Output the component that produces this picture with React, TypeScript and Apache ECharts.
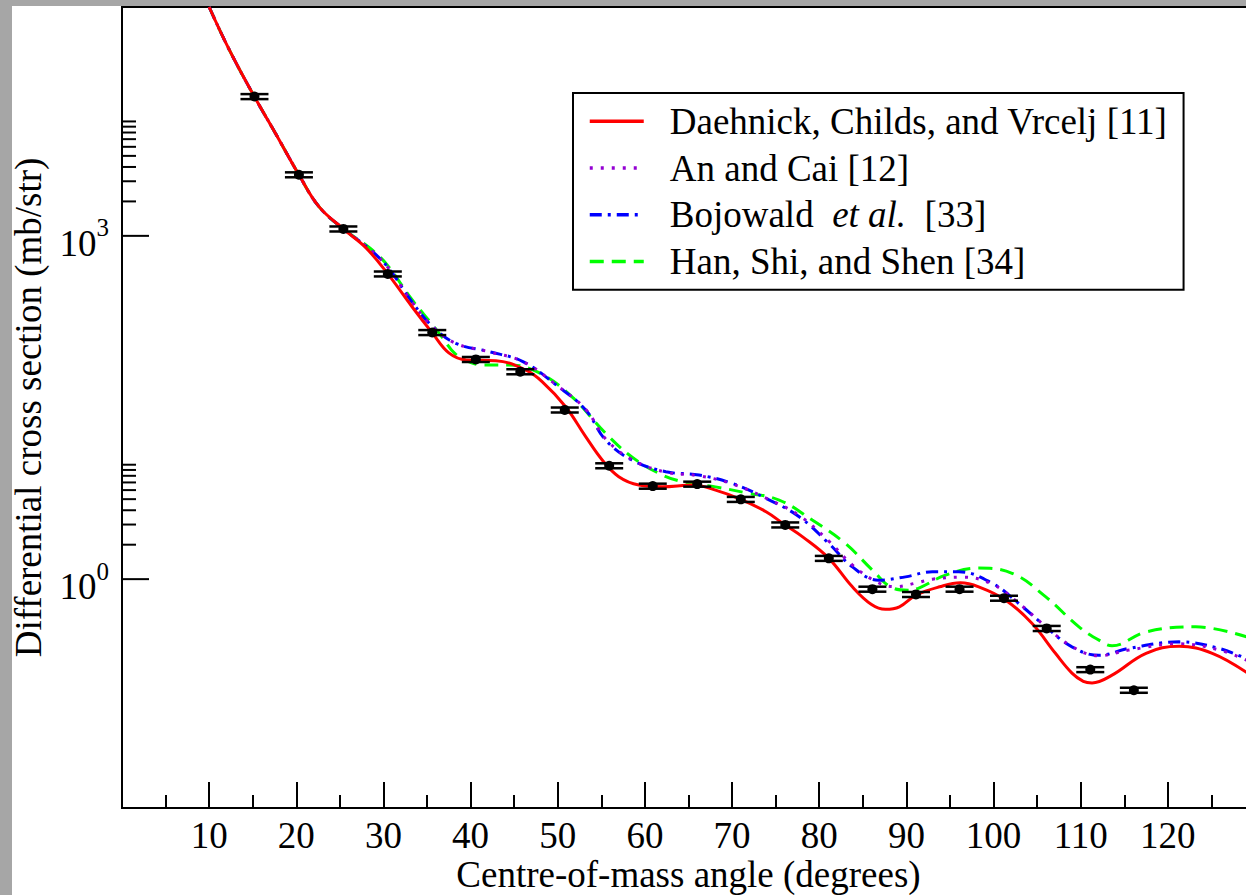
import React, { useEffect, useRef } from "react";
import * as echarts from "echarts";

const FONT = '"Liberation Serif", "Times New Roman", "DejaVu Serif", serif';

// [angle (deg), cross section (mb/str)]
const daehnick: [number, number][] = [
  [10, 100000], [12.3, 42400], [15.2, 16400], [17.6, 7900], [20.3, 3420], [22.6, 1800], [25.4, 1150],
  [28.0, 785], [30.5, 465], [33.3, 239], [35.6, 142], [37.5, 95], [39.5, 82.4], [42.9, 81.2],
  [46.3, 67.3], [48.2, 53.2], [50.9, 32.1], [53.2, 17.6], [55.1, 11.0], [57.0, 7.85], [59.3, 6.64],
  [62.0, 6.42], [65.4, 6.64], [68.1, 6.0], [71.0, 4.98], [73.9, 3.88], [76.1, 2.97], [78.1, 2.34],
  [81.1, 1.52], [83.8, 0.857], [86.0, 0.6], [87.6, 0.545], [89.2, 0.573], [91.1, 0.724], [93.8, 0.857], [96.2, 0.93],
  [98.3, 0.857], [101.4, 0.655], [104.4, 0.412], [107.1, 0.225], [109.0, 0.151], [110.3, 0.128], [111.3, 0.124],
  [113.6, 0.145], [117.5, 0.225], [121.3, 0.259], [125.1, 0.225], [129.2, 0.15],
];

const anCai: [number, number][] = [
  [10, 100000], [12.3, 42400], [15.2, 16400], [17.6, 7900], [20.3, 3420], [22.6, 1800], [25.4, 1150],
  [28.5, 755], [30.6, 520], [33.3, 263], [35.6, 162], [38.3, 115], [42.1, 97], [46.0, 79.6],
  [49.8, 50], [53.2, 30.5], [55.5, 16.8], [58.5, 11.1], [62.4, 8.6], [66.2, 8.0], [70.0, 6.8],
  [73.9, 5.1], [77.7, 3.6], [81.1, 2.15], [83.8, 1.33], [86.8, 0.93], [88.8, 0.86], [91.0, 0.92],
  [93.0, 1.0], [96.5, 1.04], [99.9, 0.9], [102.9, 0.615], [106.0, 0.385], [109.0, 0.258],
  [112.1, 0.214], [115.5, 0.24], [121.3, 0.272], [125.9, 0.24], [129.2, 0.193],
];

const bojowald: [number, number][] = [
  [10, 100000], [12.3, 42400], [15.2, 16400], [17.6, 7900], [20.3, 3420], [22.6, 1800], [25.4, 1150],
  [28.5, 755], [30.6, 520], [33.3, 263], [35.6, 162], [38.3, 115], [42.1, 97.3], [46.0, 79.6],
  [49.8, 49.8], [53.2, 30.1], [55.5, 16.4], [58.5, 11.0], [62.4, 8.69], [66.2, 8.13], [70.0, 6.87],
  [73.9, 5.08], [77.7, 3.51], [81.1, 2.05], [83.8, 1.28], [86.8, 0.98], [89.9, 1.047], [93.0, 1.159],
  [96.0, 1.159], [99.9, 0.916], [102.9, 0.612], [106.0, 0.383], [109.0, 0.256], [112.1, 0.216],
  [115.5, 0.248], [121.3, 0.283], [125.9, 0.248], [129.2, 0.198],
];

const hanShiShen: [number, number][] = [
  [10, 100000], [12.3, 42400], [15.2, 16400], [17.6, 7900], [20.3, 3420], [22.6, 1800], [25.4, 1150],
  [28.5, 775], [30.4, 560], [33.3, 275], [35.6, 168], [36.7, 131], [38.3, 92], [40.2, 77.4],
  [41.3, 74.5], [44.4, 74.5], [47.9, 63.4], [51.6, 39.4], [55.5, 18.8], [58.5, 11.7], [61.6, 8.41],
  [64.3, 7.1], [68.1, 6.4], [71.5, 5.7], [75.4, 4.91], [79.2, 3.28], [83.0, 2.05], [86.1, 1.2],
  [88.4, 0.84], [90.2, 0.8], [91.5, 0.84], [94.5, 1.084], [98.3, 1.25], [102.2, 1.12], [106.0, 0.7],
  [109.8, 0.383], [112.2, 0.29], [113.6, 0.262], [117.5, 0.346], [123.2, 0.383], [129.2, 0.31],
];

// experimental data
const expAngles = [15.2, 20.3, 25.4, 30.5, 35.6, 40.6, 45.7, 50.8, 55.9, 60.9, 66.0, 71.0, 76.1, 81.1, 86.1, 91.1, 96.1, 101.2, 106.1, 111.1, 116.1];
const expValues = [16500, 3420, 1150, 465, 143, 83.2, 65.0, 30.1, 9.8, 6.5, 6.77, 4.98, 2.98, 1.52, 0.818, 0.735, 0.818, 0.682, 0.371, 0.162, 0.107];
const expErrors = [830, 170, 58, 23, 7.2, 4.2, 3.3, 1.5, 0.49, 0.33, 0.34, 0.25, 0.15, 0.076, 0.041, 0.037, 0.041, 0.034, 0.019, 0.008, 0.0054];

const xTickLabels = [10, 20, 30, 40, 50, 60, 70, 80, 90, 100, 110, 120];
const yLabelExponents = [0, 3];
const yMajorTicks = [1, 1000];
const yMinorTicks = [2, 3, 4, 5, 6, 7, 8, 9, 10, 2000, 3000, 4000, 5000, 6000, 7000, 8000, 9000, 10000];

const seriesNames = [
  "Daehnick, Childs, and Vrcelj [11]",
  "An and Cai [12]",
  "Bojowald et al. [33]",
  "Han, Shi, and Shen [34]",
];

export default function App() {
  const ref = useRef<HTMLDivElement>(null);
  useEffect(() => {
    if (!ref.current) return;
    const chart = echarts.init(ref.current, null, { renderer: "svg" });
    const lineSeries = (name: string, data: [number, number][], color: string, type: any, z: number) => ({
      type: "line",
      name,
      data,
      smooth: 0.4,
      showSymbol: false,
      symbol: "none",
      z,
      itemStyle: { color },
      lineStyle: { color, width: 3, type },
    });
    chart.setOption({
      animation: false,
      backgroundColor: "#fff",
      grid: {
        left: 122, top: 7, right: 25, bottom: 87,
        containLabel: false, outerBoundsMode: "none",
        show: true, borderColor: "#000", borderWidth: 2,
      },
      graphic: [
        { type: "rect", shape: { x: 0, y: 0, width: 12, height: 895 }, style: { fill: "#a6a6a6" }, silent: true, z: 100 },
        { type: "rect", shape: { x: 0, y: 0, width: 1280, height: 6 }, style: { fill: "#a6a6a6" }, silent: true, z: 100 },
      ],
      legend: {
        data: seriesNames,
        orient: "vertical",
        left: 573,
        top: 93,
        padding: [5, 16, 5, 15],
        borderColor: "#000",
        borderWidth: 2,
        backgroundColor: "#fff",
        itemWidth: 54,
        itemHeight: 14,
        itemGap: 0,
        selectedMode: false,
        itemStyle: { opacity: 0, borderWidth: 0 },
        lineStyle: { width: 3.5 },
        formatter: (name: string) => (name === seriesNames[2] ? "Bojowald  {i|et al.}  [33]" : name),
        textStyle: {
          fontFamily: FONT,
          fontSize: 37,
          color: "#000",
          lineHeight: 46.7,
          padding: [0, 0, 0, 21],
          rich: { i: { fontFamily: FONT, fontSize: 37, fontStyle: "italic", lineHeight: 46.7, color: "#000" } },
        },
      },
      xAxis: {
        type: "value",
        min: 0,
        max: 130,
        interval: 10,
        name: "Centre-of-mass angle (degrees)",
        nameLocation: "middle",
        nameGap: 50,
        nameMoveOverlap: false,
        nameTextStyle: { fontFamily: FONT, fontSize: 37, color: "#000", lineHeight: 32 },
        axisLine: { show: true, lineStyle: { color: "#000", width: 2 } },
        axisTick: { show: true, inside: true, length: 26, lineStyle: { color: "#000", width: 2 } },
        minorTick: { show: true, splitNumber: 2, length: 13, lineStyle: { color: "#000", width: 2 } },
        splitLine: { show: false },
        minorSplitLine: { show: false },
        axisLabel: {
          formatter: (v: number) => (xTickLabels.includes(v) ? String(v) : ""),
          fontFamily: FONT,
          fontSize: 37,
          lineHeight: 30,
          color: "#000",
          margin: 12.5,
        },
      },
      yAxis: {
        type: "log",
        logBase: 10,
        min: 0.01,
        max: 100000,
        name: "Differential cross section (mb/str)",
        nameLocation: "middle",
        nameGap: 75,
        nameMoveOverlap: false,
        nameTextStyle: { fontFamily: FONT, fontSize: 37, color: "#000" },
        axisLine: { show: true, lineStyle: { color: "#000", width: 2 } },
        axisTick: { show: false },
        minorTick: { show: false },
        splitLine: { show: false },
        axisLabel: {
          margin: 13,
          formatter: (v: number) => {
            const l = Math.log10(v);
            const e = Math.round(l);
            if (Math.abs(l - e) < 1e-6 && yLabelExponents.includes(e)) return `{b|10}{s|${e}}`;
            return "";
          },
          rich: {
            b: { fontFamily: FONT, fontSize: 37, lineHeight: 52, color: "#000", verticalAlign: "bottom" },
            s: { fontFamily: FONT, fontSize: 25, lineHeight: 25, color: "#000", verticalAlign: "top", padding: [5.5, 0, 0, 0] },
          },
        },
      },
      series: [
        lineSeries(seriesNames[3], hanShiShen, "#00ff00", [14, 8], 2),
        lineSeries(seriesNames[2], bojowald, "#0000ff", [12, 6, 3, 6], 3),
        lineSeries(seriesNames[1], anCai, "#9400d3", [3, 8], 4),
        lineSeries(seriesNames[0], daehnick, "#ff0000", "solid", 5),
        {
          type: "custom",
          name: "yticks",
          silent: true,
          z: 6,
          data: yMajorTicks.map((v) => [0, v, 1]).concat(yMinorTicks.map((v) => [0, v, 0])),
          renderItem: (params: any, api: any) => {
            const p = api.coord([api.value(0), api.value(1)]);
            const len = api.value(2) ? 27 : 14;
            return {
              type: "line",
              shape: { x1: p[0], y1: p[1], x2: p[0] + len, y2: p[1] },
              style: { stroke: "#000", lineWidth: 2 },
            };
          },
        },
        {
          type: "custom",
          name: "data",
          silent: true,
          z: 7,
          data: expAngles.map((a, i) => [a, expValues[i], expErrors[i]]),
          renderItem: (params: any, api: any) => {
            const x = api.value(0);
            const y = api.value(1);
            const e = api.value(2);
            const c = api.coord([x, y]);
            const hi = api.coord([x, y + e]);
            const lo = api.coord([x, y - e]);
            const w = 14;
            return {
              type: "group",
              children: [
                { type: "line", shape: { x1: c[0] - w, y1: hi[1], x2: c[0] + w, y2: hi[1] }, style: { stroke: "#000", lineWidth: 2.5 } },
                { type: "line", shape: { x1: c[0] - w, y1: lo[1], x2: c[0] + w, y2: lo[1] }, style: { stroke: "#000", lineWidth: 2.5 } },
                { type: "line", shape: { x1: c[0], y1: hi[1], x2: c[0], y2: lo[1] }, style: { stroke: "#000", lineWidth: 2 } },
                { type: "circle", shape: { cx: c[0], cy: c[1], r: 5 }, style: { fill: "#000" } },
              ],
            };
          },
        },
      ],
    });
    return () => chart.dispose();
  }, []);
  return (
    <div style={{ position: "absolute", left: 0, top: 0, width: 1246, height: 895, overflow: "hidden", background: "#fff" }}>
      <div ref={ref} style={{ width: 1280, height: 895 }} />
    </div>
  );
}
